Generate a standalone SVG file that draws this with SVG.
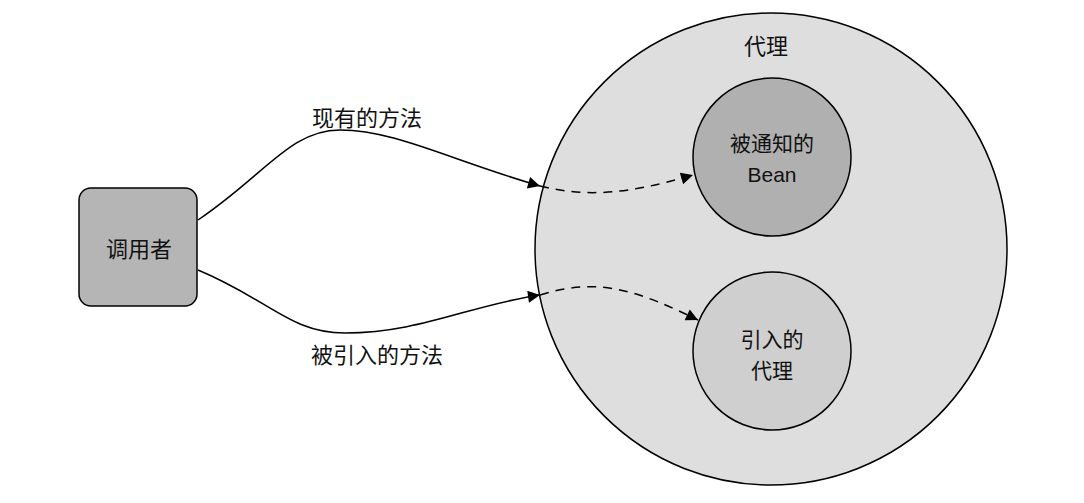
<svg xmlns="http://www.w3.org/2000/svg" width="1084" height="503" viewBox="0 0 1084 503">
<defs>
<marker id="ah" viewBox="0 0 10 10" refX="10" refY="5" markerWidth="20" markerHeight="12" markerUnits="userSpaceOnUse" orient="auto"><path d="M0,0 L10,5 L0,10 Z" fill="#000"/></marker>
<style>
.t{font-family:"Noto Sans CJK SC","Liberation Sans",sans-serif;font-size:22px;fill:#111;text-anchor:middle}
.s{font-family:"Noto Sans CJK SC","Liberation Sans",sans-serif;font-size:21px;fill:#111;text-anchor:middle}
.b{font-family:"Liberation Sans","Noto Sans CJK SC",sans-serif;font-size:21px;fill:#111;text-anchor:middle}
.n{stroke:#000;stroke-width:1.5}
.c{fill:none;stroke:#000;stroke-width:1.5}
.d{fill:none;stroke:#000;stroke-width:1.5;stroke-dasharray:9,7}
</style>
</defs>
<rect width="1084" height="503" fill="#fff"/>
<g id="proxy">
<circle class="n" cx="771" cy="249" r="236" fill="#dedede"/>
<text class="t" x="766" y="54">代理</text>
</g>
<g id="bean">
<circle class="n" cx="772" cy="157" r="79" fill="#b0b0b0"/>
<text class="s" x="772" y="151">被通知的</text>
<text class="b" x="772" y="182">Bean</text>
</g>
<g id="intro">
<circle class="n" cx="772" cy="351" r="79" fill="#cfcfcf"/>
<text class="s" x="772" y="347">引入的</text>
<text class="s" x="772" y="378">代理</text>
</g>
<g id="caller">
<rect class="n" x="79" y="188" width="118" height="118" rx="12" fill="#b5b5b5"/>
<text class="t" x="139" y="257">调用者</text>
</g>
<g id="connectors">
<path class="c" d="M198,220 C265,175 290,130 340,130 C395,130 450,160 540,186" marker-end="url(#ah)"/>
<path class="d" d="M540,186 C585,197 625,195 693,175" marker-end="url(#ah)"/>
<path class="c" d="M198,270 C270,300 290,333 345,333 C420,333 470,305 540,295" marker-end="url(#ah)"/>
<path class="d" d="M540,295 C600,276 640,292 698,320" marker-end="url(#ah)"/>
<text class="t" x="367" y="126">现有的方法</text>
<text class="t" x="377" y="363">被引入的方法</text>
</g>
</svg>
